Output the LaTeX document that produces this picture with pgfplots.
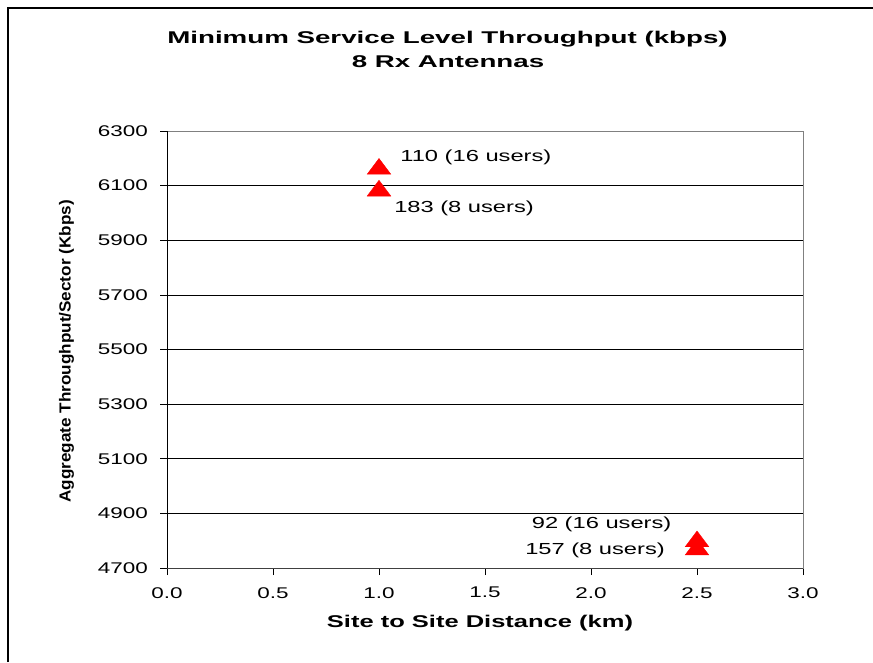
\documentclass[border=0pt]{standalone}
\usepackage{pgfplots}
\pgfplotsset{compat=1.18}
\usepackage{fontspec}
\setmainfont{Liberation Sans}
\begin{document}
\begin{tikzpicture}[x=1pt,y=1pt]
\path[use as bounding box] (0,0) rectangle (873,662);
\draw[line width=1.2pt] (8,0) -- (8,654) -- (873,654);
\node[anchor=base, font=\bfseries\fontsize{17}{20}\selectfont] at (447.5,618) {\scalebox{1.63}[1]{Minimum Service Level Throughput (kbps)}};
\node[anchor=base, font=\bfseries\fontsize{17}{20}\selectfont] at (448,594) {\scalebox{1.63}[1]{8 Rx Antennas}};
\node[anchor=base, font=\bfseries\fontsize{17}{20}\selectfont] at (480,35) {\scalebox{1.5}[1]{Site to Site Distance (km)}};
\node[anchor=base, rotate=90, font=\bfseries\fontsize{16}{19}\selectfont] at (70.7,310.5) {\scalebox{1.07}[1]{Aggregate Throughput/Sector (Kbps)}};
\begin{axis}[at={(167pt,94pt)}, anchor=south west, scale only axis,
  width=636pt, height=437pt,
  xmin=0, xmax=3, ymin=4700, ymax=6300,
  xtick={0,0.5,1,1.5,2,2.5,3}, ytick={4700,4900,5100,5300,5500,5700,5900,6100,6300},
  xtick pos=left, ytick pos=left,
  ymajorgrids, grid style={black, line width=0.6pt},
  axis line style={draw=gray, line width=0.8pt},
  tick style={black, line width=0.6pt}, tick align=outside, major tick length=7pt,
  /pgf/number format/assume math mode=true,
  xticklabel={\scalebox{1.45}[1]{\pgfmathprintnumber[fixed,fixed zerofill,precision=1]{\tick}}},
  yticklabel={\scalebox{1.45}[1]{\pgfmathprintnumber[fixed,precision=0,1000 sep={}]{\tick}}},
  ticklabel style={font=\fontsize{15.5}{18}\selectfont},
  xticklabel style={anchor=north, inner sep=0pt, yshift=-12pt},
  yticklabel style={anchor=east, inner sep=0pt, xshift=-12pt},
  clip=false]
\draw[black, line width=0.8pt] (axis cs:0,4700) -- (axis cs:0,6300);
\draw[black!75, line width=0.8pt] (axis cs:0,4700) -- (axis cs:3,4700);
\addplot[only marks, mark=triangle*, mark size=10.5pt, mark options={draw=red, fill=red, xscale=1.3}] coordinates {(1,6161) (2.5,4797)};
\addplot[only marks, mark=triangle*, mark size=10.5pt, mark options={draw=red, fill=red, xscale=1.3}] coordinates {(1,6081) (2.5,4767)};
\node[anchor=base west, font=\fontsize{16}{19}\selectfont, inner sep=0pt] at (axis cs:1.1,6190) {\scalebox{1.48}[1]{110 (16 users)}};
\node[anchor=base west, font=\fontsize{16}{19}\selectfont, inner sep=0pt] at (axis cs:1.071,6001) {\scalebox{1.48}[1]{183 (8 users)}};
\node[anchor=base west, font=\fontsize{16}{19}\selectfont, inner sep=0pt] at (axis cs:1.72,4846) {\scalebox{1.48}[1]{92 (16 users)}};
\node[anchor=base west, font=\fontsize{16}{19}\selectfont, inner sep=0pt] at (axis cs:1.689,4748) {\scalebox{1.48}[1]{157 (8 users)}};
\end{axis}
\end{tikzpicture}
\end{document}
